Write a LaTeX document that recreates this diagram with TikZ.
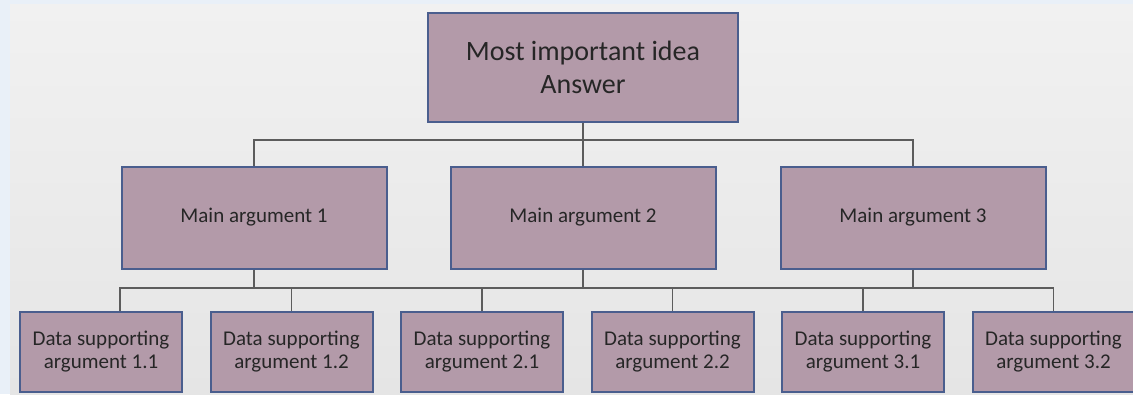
\documentclass[tikz,border=0pt]{standalone}
\usepackage{fontspec}
\setmainfont{Carlito}
\usepackage{xcolor}
\usetikzlibrary{positioning, calc}
\definecolor{boxfill}{HTML}{B39AA9}
\definecolor{boxedge}{HTML}{4A5E8E}
\definecolor{linkgray}{HTML}{5C5C5C}
\definecolor{pageblue}{HTML}{E9F0F8}
\definecolor{paneltop}{HTML}{F1F1F1}
\definecolor{panelbottom}{HTML}{E5E5E5}

\begin{document}
\begin{tikzpicture}[
    x=1pt, y=-1pt,
    node distance=43pt and 62pt,
    topbox/.style={draw=boxedge, fill=boxfill, line width=2pt, minimum width=310pt, minimum height=109pt, font=\fontsize{28}{33}\selectfont, align=center, text=black!85},
    mainbox/.style={draw=boxedge, fill=boxfill, line width=2pt, minimum width=265pt, minimum height=102pt, font=\fontsize{21}{24}\selectfont, align=center, text=black!85},
    databox/.style={draw=boxedge, fill=boxfill, line width=2pt, minimum width=162pt, minimum height=80pt, font=\fontsize{21}{23}\selectfont, align=center, text=black!85},
    link/.style={draw=linkgray, line width=1.2pt}
]

% Background
\useasboundingbox (0,0) rectangle (1133,394);
\fill[pageblue] (0,0) rectangle (1133,394);
\shade[top color=paneltop, bottom color=panelbottom] (10,4) rectangle (1133,394);

% Top level
\node[topbox] at (583,67) (top) {Most important idea\\Answer};

% Main arguments
\node[mainbox, below=43pt of top] (main2) {Main argument 2};
\node[mainbox, left=62pt of main2] (main1) {Main argument 1};
\node[mainbox, right=63pt of main2] (main3) {Main argument 3};

% Supporting data
\node[databox] at (101,352) (d11) {Data supporting\\argument 1.1};
\node[databox, right=26.5pt of d11] (d12) {Data supporting\\argument 1.2};
\node[databox, right=26.5pt of d12] (d21) {Data supporting\\argument 2.1};
\node[databox, right=26.5pt of d21] (d22) {Data supporting\\argument 2.2};
\node[databox, right=26.5pt of d22] (d31) {Data supporting\\argument 3.1};
\node[databox, right=26.5pt of d31] (d32) {Data supporting\\argument 3.2};

% Bus levels
\coordinate (topbus) at (0,140);
\coordinate (databus) at (0,288);

% Top to main arguments
\draw[link] (top.south) -- (main2.north);
\draw[link] (top.south |- topbus) -| (main1.north);
\draw[link] (top.south |- topbus) -| (main3.north);

% Main arguments to data
\coordinate (d11top) at ([xshift=19pt]d11.north);
\draw[link] (d11top) -- (d11top |- databus) -- (d32.north |- databus) -- (d32.north);
\foreach \n in {main1, main2, main3}
  \draw[link] (\n.south) -- (\n.south |- databus);
\foreach \n in {d12, d21, d22, d31}
  \draw[link] (\n.north) -- (\n.north |- databus);

\end{tikzpicture}
\end{document}
